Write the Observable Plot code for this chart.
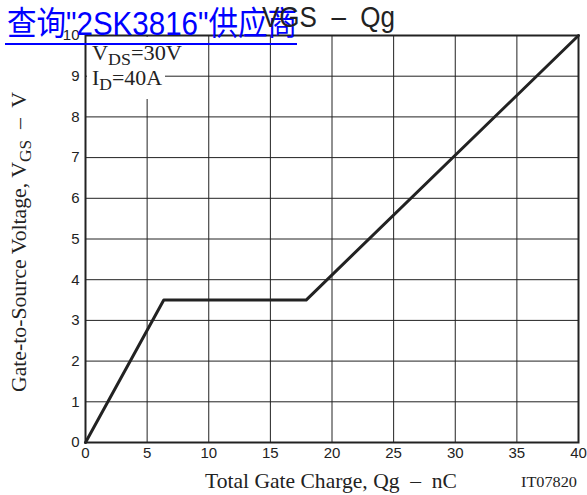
<!DOCTYPE html>
<html><head><meta charset="utf-8">
<script src="https://cdn.jsdelivr.net/npm/d3@7"></script>
<script src="https://cdn.jsdelivr.net/npm/@observablehq/plot@0.6"></script>
<style>
body{margin:0;background:#fff;}
#wrap{position:relative;width:587px;height:495px;}
</style></head>
<body><div id="wrap"></div>
<script>
const qg = [0, 6.35, 17.9, 40];
const vgs = [0, 3.5, 3.5, 10];
const xTicks = [0,5,10,15,20,25,30,35,40];
const yTicks = [0,1,2,3,4,5,6,7,8,9,10];
const data = qg.map((q,i)=>({q, v: vgs[i]}));
const ink = "#222";
const chart = Plot.plot({
  width: 587, height: 495,
  marginLeft: 85, marginRight: 9, marginTop: 35, marginBottom: 53,
  style: {fontFamily: "'Liberation Sans', Arial, sans-serif", fontSize: "15px", color: ink, background: "white"},
  x: {domain: [0,40], ticks: xTicks, label: null, tickSize: 0, tickPadding: 5},
  y: {domain: [0,10], ticks: yTicks, label: null, tickSize: 0, tickPadding: 6},
  marks: [
    Plot.gridX(xTicks, {stroke: ink, strokeOpacity: 1, strokeWidth: 1}),
    Plot.gridY(yTicks, {stroke: ink, strokeOpacity: 1, strokeWidth: 1}),
    Plot.axisX(xTicks, {tickSize: 0, tickPadding: 5, fontSize: 15, fill: ink}),
    Plot.axisY(yTicks, {tickSize: 0, tickPadding: 6, fontSize: 15, fill: ink}),
    Plot.frame({stroke: ink, strokeWidth: 2}),
    Plot.line(data, {x: "q", y: "v", stroke: ink, strokeWidth: 3})
  ]
});
document.getElementById("wrap").prepend(chart);
const svg = d3.select(chart);
const serif = "'Liberation Serif', 'Times New Roman', serif";
const sans = "'Liberation Sans', Arial, sans-serif";
// annotation background
svg.append("rect").attr("x", 87).attr("y", 37).attr("width", 78).attr("height", 62).attr("fill", "white");
function sub(t, x, y, size, parts, anchor, len){
  const el = svg.append("text").attr("x", x).attr("y", y).attr("font-family", serif).attr("font-size", size).attr("fill", ink).attr("text-anchor", anchor||"start");
  parts.forEach(([s, isSub])=>{
    const ts = el.append("tspan").text(s);
    if(isSub) ts.attr("font-size", size*0.8).attr("dy", 5);
    else if(el.selectAll("tspan").size()>1) ts.attr("dy", -5);
  });
  if(t) el.attr("transform", t);
  if(len) el.attr("textLength", len).attr("lengthAdjust", "spacingAndGlyphs");
  return el;
}
sub(null, 92, 60, 22, [["V"],["DS",1],["=30V"]], "start", 90);
sub(null, 92, 85, 22, [["I"],["D",1],["=40A"]], "start", 70);
// link overlay
svg.append("text").attr("x", 7).attr("y", 35).attr("text-anchor", "start").attr("font-family", "'Liberation Sans', 'Noto Sans CJK SC', sans-serif").attr("font-size", 33).attr("fill", "#0000ff")
  .attr("textLength", 290).attr("lengthAdjust", "spacingAndGlyphs").text('查询"2SK3816"供应商');
svg.append("rect").attr("x", 5).attr("y", 43).attr("width", 292).attr("height", 2).attr("fill", "#0000ff");
// title
svg.append("text").attr("x", 262).attr("y", 27).attr("text-anchor", "start").attr("font-family", sans).attr("font-size", 29).attr("fill", ink)
  .attr("textLength", 133).attr("lengthAdjust", "spacingAndGlyphs").text("VGS  –  Qg");
// x label
sub(null, 205, 488, 21, [["Total Gate Charge, Qg  –  nC"]], "start", 252);
svg.append("text").attr("x", 521).attr("y", 487).attr("text-anchor", "start").attr("font-family", serif).attr("font-size", 15).attr("fill", ink)
  .attr("textLength", 56).attr("lengthAdjust", "spacingAndGlyphs").text("IT07820");
// y label
sub("rotate(-90)", -392, 26, 21, [["Gate-to-Source Voltage, V"],["GS",1],["  –  V"]], "start", 300);
</script></body></html>
